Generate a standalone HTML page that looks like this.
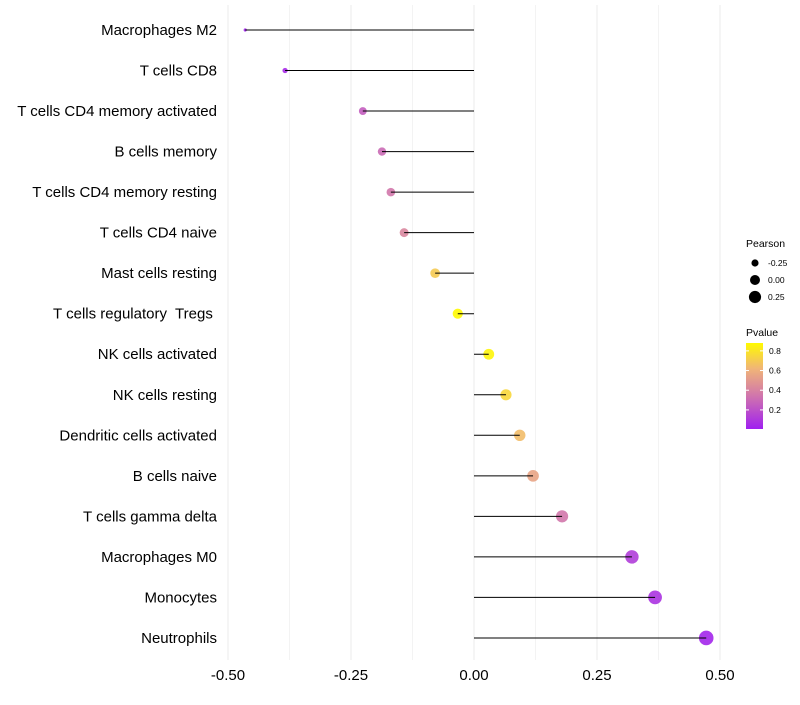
<!DOCTYPE html>
<html><head><meta charset="utf-8"><style>
body{margin:0;background:#fff;font-family:"Liberation Sans",sans-serif}
text{white-space:pre}
</style></head><body>
<svg id="chart" width="800" height="700" xmlns="http://www.w3.org/2000/svg"></svg>
<script>
const categories=["Macrophages M2","T cells CD8","T cells CD4 memory activated","B cells memory","T cells CD4 memory resting","T cells CD4 naive","Mast cells resting","T cells regulatory  Tregs ","NK cells activated","NK cells resting","Dendritic cells activated","B cells naive","T cells gamma delta","Macrophages M0","Monocytes","Neutrophils"];
const pearson=[-0.465,-0.384,-0.226,-0.187,-0.169,-0.142,-0.079,-0.033,0.030,0.065,0.093,0.120,0.179,0.321,0.368,0.472];
const pvalue=[0.02,0.05,0.25,0.3,0.35,0.42,0.7,0.88,0.86,0.75,0.65,0.55,0.35,0.12,0.08,0.03];
const xTicks=[-0.5,-0.25,0,0.25,0.5];
const xTickLabels=["-0.50","-0.25","0.00","0.25","0.50"];
const sizeLegend=[-0.25,0,0.25];
const colorTicks=[0.2,0.4,0.6,0.8];

const svg=document.getElementById('chart');
const NS="http://www.w3.org/2000/svg";
function mk(t,a,p){const e=document.createElementNS(NS,t);for(const k in a)e.setAttribute(k,a[k]);(p||svg).appendChild(e);return e;}
const x=v=>474+v*492;
const y=i=>30+i*40.53;
const r=p=>Math.sqrt(Math.max(1,2.5+54*(p+0.465)));
const stops=[[0,[160,32,240]],[0.4,[210,120,170]],[0.7,[240,180,120]],[1,[255,250,0]]];
function col(v){const t=Math.min(1,Math.max(0,(v-0.006)/(0.88-0.006)));for(let i=1;i<stops.length;i++){if(t<=stops[i][0]){const a=stops[i-1],b=stops[i],f=(t-a[0])/(b[0]-a[0]);const c=a[1].map((q,j)=>Math.round(q+(b[1][j]-q)*f));return `rgb(${c.join(',')})`;}}return 'rgb(255,250,0)';}

for(let v=-0.5;v<=0.5001;v+=0.125){const g=mk('line',{x1:x(v),x2:x(v),y1:5,y2:660,stroke:'#ebebeb','stroke-width':Math.abs((v*4)%1)<1e-6?1:0.6});

}
xTicks.forEach((v,i)=>{const t=mk('text',{x:x(v),y:680,'text-anchor':'middle','font-size':15,fill:'#000'});t.textContent=xTickLabels[i];

});
categories.forEach((c,i)=>{
const t=mk('text',{x:217,y:y(i)+5,'text-anchor':'end','font-size':15,fill:'#000'});t.textContent=c;


const d=mk('circle',{cx:x(pearson[i]),cy:y(i),r:r(pearson[i]),fill:col(pvalue[i]),'fill-opacity':0.9});


const l=mk('line',{x1:x(0),x2:x(pearson[i]),y1:y(i),y2:y(i),stroke:'#000','stroke-width':1});


});
const st=mk('text',{x:746,y:247,'font-size':10.5});st.textContent='Pearson';


sizeLegend.forEach((p,i)=>{const cy=263+i*17;
const c=mk('circle',{cx:755,cy:cy,r:r(p)*0.95,fill:'#000'});


const t=mk('text',{x:768,y:cy+3,'font-size':8.5});t.textContent=p===0?'0.00':p.toFixed(2);

});
const ct=mk('text',{x:746,y:336,'font-size':10.5});ct.textContent='Pvalue';


const defs=mk('defs',{});const lg=mk('linearGradient',{id:'pg',x1:0,y1:1,x2:0,y2:0},defs);
stops.forEach(s=>mk('stop',{offset:s[0],'stop-color':`rgb(${s[1].join(',')})`},lg));
const bar=mk('rect',{x:746,y:343,width:17,height:86,fill:'url(#pg)'});


colorTicks.forEach(v=>{const cy=429-(v-0.006)*98.4;
mk('line',{x1:746,x2:749,y1:cy,y2:cy,stroke:'#fff'});mk('line',{x1:760,x2:763,y1:cy,y2:cy,stroke:'#fff'});
const t=mk('text',{x:769,y:cy+3,'font-size':8.5});t.textContent=v.toFixed(1);

});
</script>
</body></html>
